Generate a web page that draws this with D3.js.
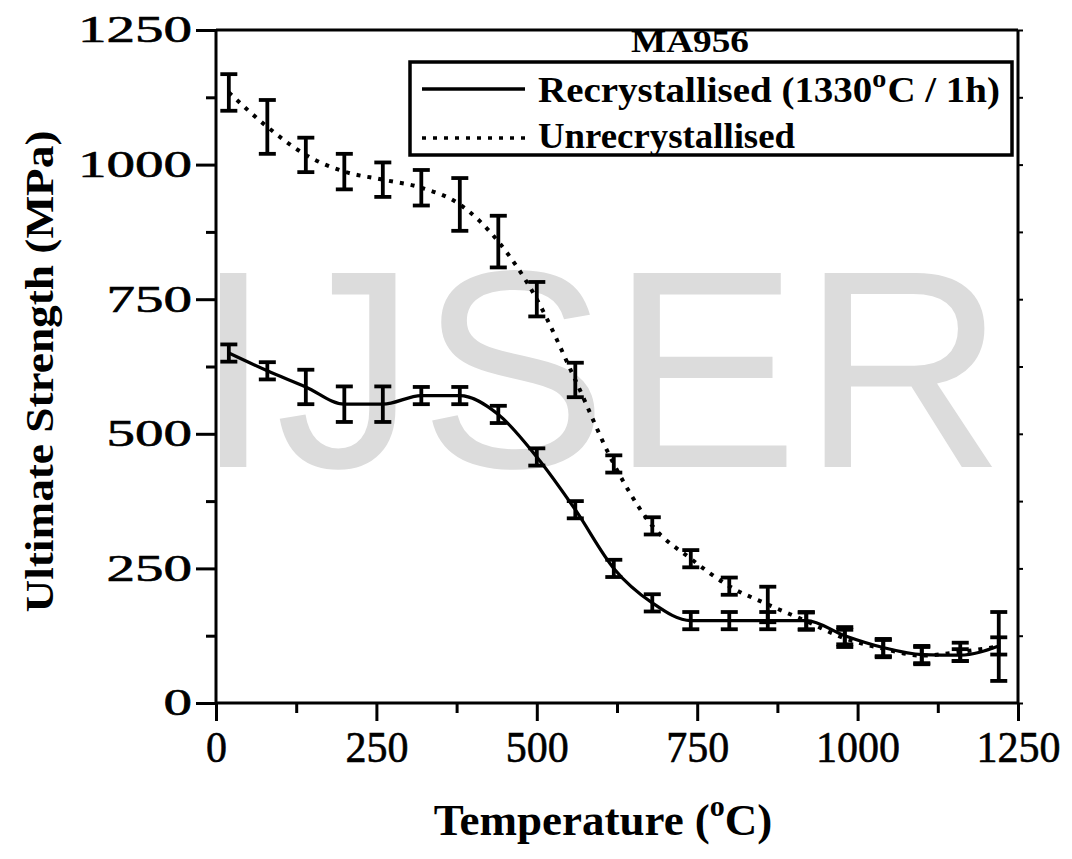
<!DOCTYPE html>
<html>
<head>
<meta charset="utf-8">
<script src="https://cdn.jsdelivr.net/npm/d3@7"></script>
<style>
  html, body { margin: 0; padding: 0; background: #fff; }
  svg { display: block; }
</style>
</head>
<body>
<script>
// ---- data ----
const temps = [20, 80, 140, 200, 260, 320, 380, 440, 500, 560, 620, 680, 740, 800, 860, 920, 980, 1040, 1100, 1160, 1220];
const recrys = [650, 617, 587, 555, 555, 571, 571, 536, 457, 359, 250, 186, 153, 153, 153, 153, 125, 103, 90, 89, 106];
const recrysErr = [16, 16, 32, 33, 33, 16, 16, 16, 16, 16, 16, 16, 16, 16, 16, 16, 16, 16, 16, 11, 16];
const unrecrys = [1134, 1070, 1018, 987, 972, 957, 926, 857, 750, 600, 444, 329, 268, 217, 183, 152, 120, 101, 88, 95, 105];
const unrecrysErr = [34, 50, 32, 33, 32, 33, 49, 48, 32, 32, 16, 16, 16, 16, 33, 16, 16, 16, 16, 17, 64];
const xTicks = [0, 250, 500, 750, 1000, 1250];
const yTicks = [0, 250, 500, 750, 1000, 1250];
const xMinor = [125, 375, 625, 875, 1125];
const yMinor = [125, 375, 625, 875, 1125];
const chartTitle = "MA956";
const seriesNames = ["Recrystallised (1330", "Unrecrystallised"];

const W = 1072, H = 859;
const svg = d3.select("body").append("svg").attr("width", W).attr("height", H);

const x = d3.scaleLinear().domain([0, 1250]).range([216, 1018]);
const y = d3.scaleLinear().domain([0, 1250]).range([703, 30]);

const serif = "'Liberation Serif', 'Times New Roman', serif";

// watermark
svg.append("text")
  .attr("x", 194).attr("y", 467)
  .attr("font-family", "'Liberation Sans', Arial, sans-serif")
  .attr("font-size", 282)
  .attr("letter-spacing", 3)
  .attr("fill", "#dcdcdc")
  .text("IJSER");

// frame
const frame = svg.append("g").attr("stroke", "#000").attr("stroke-width", 3).attr("fill", "none");
frame.append("line").attr("x1", x(0)).attr("x2", x(0)).attr("y1", y(0)).attr("y2", y(1250));
frame.append("line").attr("x1", x(1250)).attr("x2", x(1250)).attr("y1", y(0)).attr("y2", y(1250));
frame.append("line").attr("x1", x(0)).attr("x2", x(1250)).attr("y1", y(0)).attr("y2", y(0));
frame.append("line").attr("x1", x(0)).attr("x2", x(1250)).attr("y1", y(1250)).attr("y2", y(1250));

// axes
const xAxis = d3.axisBottom(x).tickValues(xTicks).tickSize(18).tickPadding(6).tickFormat(d3.format("d"));
const gx = svg.append("g").attr("transform", `translate(0,${y(0)})`).call(xAxis);
gx.select(".domain").remove();
gx.selectAll(".tick line").attr("stroke", "#000").attr("stroke-width", 3);
gx.selectAll(".tick text").attr("font-family", serif).attr("font-size", 45).attr("fill", "#000")
  .attr("dy", "0.78em")
  .attr("textLength", d => String(d).length * 21).attr("lengthAdjust", "spacingAndGlyphs")
  .attr("stroke", "#000").attr("stroke-width", 0.6);

const gxm = svg.append("g").attr("transform", `translate(0,${y(0)})`)
  .call(d3.axisBottom(x).tickValues(xMinor).tickSize(10).tickFormat(""));
gxm.select(".domain").remove();
gxm.selectAll(".tick line").attr("stroke", "#000").attr("stroke-width", 3);

const yAxis = d3.axisLeft(y).tickValues(yTicks).tickSize(20).tickPadding(4).tickFormat(d3.format("d"));
const gy = svg.append("g").attr("transform", `translate(${x(0)},0)`).call(yAxis);
gy.select(".domain").remove();
gy.selectAll(".tick line").attr("stroke", "#000").attr("stroke-width", 3);
gy.selectAll(".tick text").attr("font-family", serif).attr("font-size", 37).attr("fill", "#000")
  .attr("textLength", d => String(d).length * 28.5).attr("lengthAdjust", "spacingAndGlyphs")
  .attr("stroke", "#000").attr("stroke-width", 0.6);

const gym = svg.append("g").attr("transform", `translate(${x(0)},0)`)
  .call(d3.axisLeft(y).tickValues(yMinor).tickSize(10).tickFormat(""));
gym.select(".domain").remove();
gym.selectAll(".tick line").attr("stroke", "#000").attr("stroke-width", 3);

// right spine small inner ticks
const gyr = svg.append("g").attr("transform", `translate(${x(1250)},0)`)
  .call(d3.axisLeft(y).tickValues(yTicks.concat(yMinor)).tickSize(5).tickFormat(""));
gyr.select(".domain").remove();
gyr.selectAll(".tick line").attr("stroke", "#000").attr("stroke-width", 2).attr("transform", "translate(5,0)");

// axis titles
svg.append("text")
  .attr("transform", `translate(53,${(y(0) + y(1250)) / 2 + 5}) rotate(-90)`)
  .attr("text-anchor", "middle")
  .attr("font-family", serif).attr("font-weight", "bold").attr("font-size", 40)
  .attr("textLength", 482).attr("lengthAdjust", "spacingAndGlyphs")
  .text("Ultimate Strength (MPa)");

const xt = svg.append("text")
  .attr("x", 603).attr("y", 835)
  .attr("text-anchor", "middle")
  .attr("font-family", serif).attr("font-weight", "bold").attr("font-size", 45);
xt.append("tspan").text("Temperature (");
xt.append("tspan").attr("dy", -19).attr("font-size", 30).text("o");
xt.append("tspan").attr("dy", 19).text("C)");

// error bars + lines
function drawSeries(vals, errs, dashed) {
  const g = svg.append("g");
  const pts = temps.map((t, i) => [t, vals[i]]);
  const line = d3.line().x(d => x(d[0])).y(d => y(d[1])).curve(d3.curveMonotoneX);
  g.append("path").attr("d", line(pts)).attr("fill", "none").attr("stroke", "#000")
    .attr("stroke-width", dashed ? 4 : 3.2)
    .attr("stroke-dasharray", dashed ? "4,7" : null);
  const eb = g.append("g").attr("stroke", "#000").attr("stroke-width", 3.8);
  temps.forEach((t, i) => {
    const cx = x(t), lo = y(vals[i] - errs[i]), hi = y(vals[i] + errs[i]);
    eb.append("line").attr("x1", cx).attr("x2", cx).attr("y1", lo).attr("y2", hi);
    eb.append("line").attr("x1", cx - 8.5).attr("x2", cx + 8.5).attr("y1", lo).attr("y2", lo);
    eb.append("line").attr("x1", cx - 8.5).attr("x2", cx + 8.5).attr("y1", hi).attr("y2", hi);
  });
}
drawSeries(unrecrys, unrecrysErr, true);
drawSeries(recrys, recrysErr, false);

// title and legend
svg.append("text").attr("x", 690).attr("y", 52).attr("text-anchor", "middle")
  .attr("font-family", serif).attr("font-weight", "bold").attr("font-size", 32)
  .attr("textLength", 118).attr("lengthAdjust", "spacingAndGlyphs")
  .text(chartTitle);

const lg = svg.append("g");
lg.append("rect").attr("x", 410).attr("y", 62).attr("width", 602).attr("height", 93)
  .attr("fill", "#fff").attr("stroke", "#000").attr("stroke-width", 3.5);
lg.append("line").attr("x1", 422).attr("x2", 525).attr("y1", 89).attr("y2", 89)
  .attr("stroke", "#000").attr("stroke-width", 3.5);
lg.append("line").attr("x1", 422).attr("x2", 525).attr("y1", 138).attr("y2", 138)
  .attr("stroke", "#000").attr("stroke-width", 3.5).attr("stroke-dasharray", "4,7");
const t1 = lg.append("text").attr("x", 538).attr("y", 102)
  .attr("font-family", serif).attr("font-weight", "bold").attr("font-size", 36);
t1.append("tspan").text(seriesNames[0]);
t1.append("tspan").attr("dy", -15).attr("font-size", 26).text("o");
t1.append("tspan").attr("dy", 15).attr("dx", 1).text("C / 1h)");
t1.attr("textLength", 462).attr("lengthAdjust", "spacingAndGlyphs");
lg.append("text").attr("x", 538).attr("y", 148)
  .attr("font-family", serif).attr("font-weight", "bold").attr("font-size", 36)
  .attr("textLength", 257).attr("lengthAdjust", "spacingAndGlyphs")
  .text(seriesNames[1]);
</script>
</body>
</html>
